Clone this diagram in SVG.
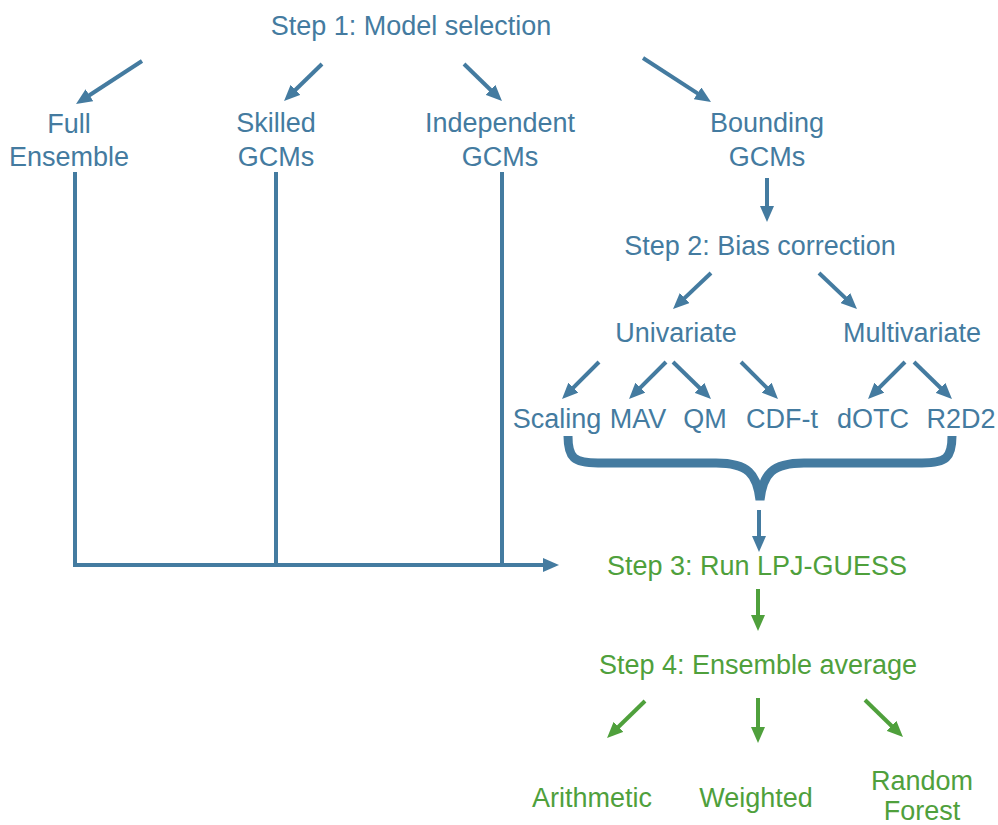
<svg xmlns="http://www.w3.org/2000/svg" width="998" height="825" viewBox="0 0 998 825">
<defs>
<style>
text{font-family:"Liberation Sans",Arial,sans-serif;font-size:27px;text-anchor:middle}
.b{fill:#447ba0}
.g{fill:#4fa03c}
.lb{stroke:#447ba0;stroke-width:4;fill:none}
.lg{stroke:#4fa03c;stroke-width:4;fill:none}
.ab{marker-end:url(#hb)}
.ag{marker-end:url(#hg)}
</style>
<marker id="hb" markerUnits="userSpaceOnUse" markerWidth="16" markerHeight="14" refX="6" refY="7" orient="auto"><path d="M0,0 L16,7 L0,14 Z" fill="#447ba0"/></marker>
<marker id="hg" markerUnits="userSpaceOnUse" markerWidth="16" markerHeight="14" refX="6" refY="7" orient="auto"><path d="M0,0 L16,7 L0,14 Z" fill="#4fa03c"/></marker>
</defs>
<rect width="998" height="825" fill="#fff"/>
<g id="connectors">
<line class="lb ab" x1="142" y1="61" x2="84.4" y2="98.5"/>
<line class="lb ab" x1="322" y1="64" x2="291.2" y2="94"/>
<line class="lb ab" x1="464" y1="64" x2="494.8" y2="94"/>
<line class="lb ab" x1="643" y1="58" x2="702.6" y2="96.6"/>
<line class="lb ab" x1="767" y1="178" x2="767" y2="212"/>
<line class="lb ab" x1="711" y1="273" x2="680.3" y2="302.1"/>
<line class="lb ab" x1="819" y1="273" x2="849.7" y2="302.1"/>
<line class="lb ab" x1="599" y1="362" x2="569.1" y2="391.9"/>
<line class="lb ab" x1="666" y1="362" x2="636.1" y2="391.9"/>
<line class="lb ab" x1="673" y1="362" x2="703.8" y2="392"/>
<line class="lb ab" x1="741" y1="362" x2="770.9" y2="391.9"/>
<line class="lb ab" x1="905" y1="362" x2="875.1" y2="391.9"/>
<line class="lb ab" x1="914" y1="362" x2="944.8" y2="392"/>
<path d="M568,436 C568,458 574,463 598,463 L716,463 C748,463 757,474 760,500 C763,474 772,463 804,463 L922,463 C946,463 952,458 952,436" fill="none" stroke="#447ba0" stroke-width="9"/>
<line class="lb ab" x1="759" y1="510" x2="759" y2="542"/>
<polyline class="lb ab" points="75,172 75,565 549,565"/>
<line class="lb" x1="276" y1="172" x2="276" y2="565"/>
<line class="lb" x1="502" y1="172" x2="502" y2="565"/>
<line class="lg ag" x1="758" y1="589" x2="758" y2="621"/>
<line class="lg ag" x1="645" y1="701" x2="614.2" y2="731"/>
<line class="lg ag" x1="758" y1="698" x2="758" y2="733"/>
<line class="lg ag" x1="865" y1="700" x2="895.8" y2="730"/>
</g>
<g id="step1"><text class="b" x="411" y="35">Step 1: Model selection</text></g>
<g id="full"><text class="b" x="69" y="133">Full</text><text class="b" x="69" y="166">Ensemble</text></g>
<g id="skilled"><text class="b" x="276" y="132">Skilled</text><text class="b" x="276" y="166">GCMs</text></g>
<g id="independent"><text class="b" x="500" y="132">Independent</text><text class="b" x="500" y="166">GCMs</text></g>
<g id="bounding"><text class="b" x="767" y="132">Bounding</text><text class="b" x="767" y="166">GCMs</text></g>
<g id="step2"><text class="b" x="760" y="255">Step 2: Bias correction</text></g>
<g id="univariate"><text class="b" x="676" y="342">Univariate</text></g>
<g id="multivariate"><text class="b" x="912" y="342">Multivariate</text></g>
<g id="scaling"><text class="b" x="557" y="428">Scaling</text></g>
<g id="mav"><text class="b" x="638" y="428">MAV</text></g>
<g id="qm"><text class="b" x="705" y="428">QM</text></g>
<g id="cdft"><text class="b" x="782" y="428">CDF-t</text></g>
<g id="dotc"><text class="b" x="873" y="428">dOTC</text></g>
<g id="r2d2"><text class="b" x="961" y="428">R2D2</text></g>
<g id="step3"><text class="g" x="757" y="575">Step 3: Run LPJ-GUESS</text></g>
<g id="step4"><text class="g" x="758" y="674">Step 4: Ensemble average</text></g>
<g id="arithmetic"><text class="g" x="592" y="807">Arithmetic</text></g>
<g id="weighted"><text class="g" x="756" y="807">Weighted</text></g>
<g id="random"><text class="g" x="922" y="790">Random</text><text class="g" x="922" y="820">Forest</text></g>
</svg>
